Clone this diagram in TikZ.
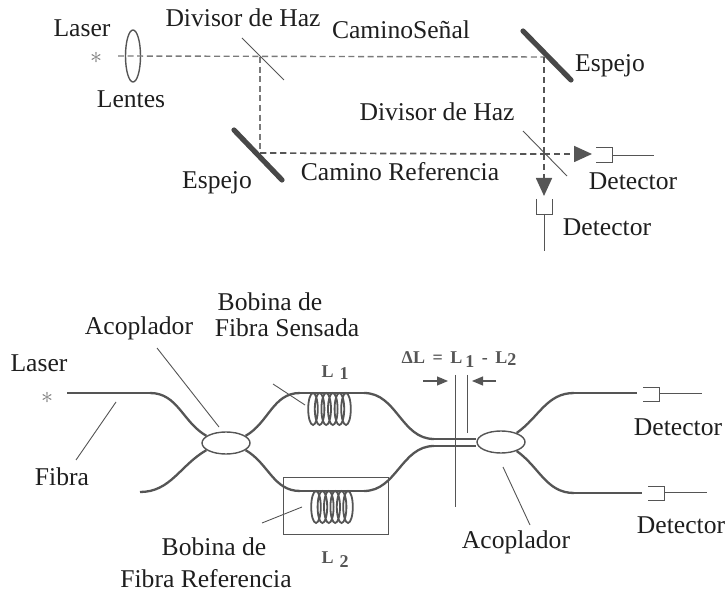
\documentclass[tikz,border=0pt]{standalone}
\usepackage{fontspec}
\setmainfont{Liberation Serif}
\usetikzlibrary{arrows.meta,shapes.geometric}

\definecolor{ink}{HTML}{1E1E1E}
\definecolor{wire}{HTML}{555555}
\definecolor{beam}{HTML}{7A7A7A}

\begin{document}
\begin{tikzpicture}[x=0.5pt,y=-0.5pt,
  every node/.style={inner sep=0pt,text=ink,font=\fontsize{12.8}{14}\selectfont},
  star/.style={text=beam,font=\fontsize{13}{13}\selectfont},
  thin line/.style={draw=wire,line width=0.45pt},
  ray/.style={draw=beam,dash pattern=on 3pt off 1.8pt,line width=0.7pt},
  dark ray/.style={draw=wire,dash pattern=on 3.2pt off 1.8pt,line width=0.85pt},
  ray tip/.style={dark ray,-{Triangle[length=9pt,width=8pt]}},
  mirror/.style={draw=wire!85!black,line width=2.6pt,line cap=round},
  fibre/.style={draw=wire,line width=1.15pt},
  coupler/.style={ellipse,draw=wire,line width=0.7pt,fill=white,minimum width=24pt,minimum height=11pt},
  coil/.style={draw=wire,line width=0.9pt,x radius=4.8,y radius=16},
  small/.style={text=wire,font=\fontsize{9}{10}\bfseries\selectfont},
  dim tip/.style={draw=wire,line width=0.6pt,-{Triangle[length=5.5pt,width=4.5pt]}}]
\useasboundingbox (0,0) rectangle (727,592);

% upper part
\node (laserA) at (82,28) {Laser};
\node[star] (starA) at (96,58) {$\ast$};
\node[draw=wire,line width=0.7pt,ellipse,minimum width=7.5pt,minimum height=26pt] (lens) at (133,56) {};
\node (lentes) at (131,99) {Lentes};
\node (divA) at (243,18) {Divisor de Haz};
\node (signal) at (401,30) {CaminoSeñal};
\node (espejoA) at (610,66) {Espejo};
\node (divB) at (437,112) {Divisor de Haz};
\node (espejoB) at (217,183) {Espejo};
\node (refpath) at (400,172) {Camino Referencia};
\node (detA) at (633,181) {Detector};
\node (detB) at (607,227) {Detector};

\coordinate (beamstart) at (118,56);
\coordinate (split) at (260,57);
\coordinate (turnA) at (544,57);
\coordinate (turnB) at (260,153);
\coordinate (cross) at (544,154);
\coordinate (tipA) at (592,154);
\coordinate (tipB) at (544,196);
\coordinate (splitAa) at (242,38);
\coordinate (splitAb) at (284,80);
\coordinate (splitBa) at (523,131);
\coordinate (splitBb) at (567,176);
\coordinate (mirrorAa) at (523,31);
\coordinate (mirrorAb) at (571,80);
\coordinate (mirrorBa) at (234,130);
\coordinate (mirrorBb) at (282,180);

\path
(beamstart) edge[ray] (turnA)
(split) edge[ray] (turnB)
(turnB) edge[dark ray] (cross)
(turnA) edge[dark ray] (cross)
(cross) edge[ray tip] (tipA)
(cross) edge[ray tip] (tipB)
(splitAa) edge[thin line] (splitAb)
(splitBa) edge[thin line] (splitBb)
(mirrorAa) edge[mirror] (mirrorAb)
(mirrorBa) edge[mirror] (mirrorBb);

% detectors of the upper part
\draw[thin line] (596,147) -| (612,162) -- (596,162);
\draw[thin line] (612,155) -- (654,155);
\draw[thin line] (536,199) |- (552,214) -- (552,199);
\draw[thin line] (544,214) -- (544,251);

% lower part
\node (bobA) at (270,302) {Bobina de};
\node (fibS) at (287,328) {Fibra Sensada};
\node (acopA) at (139,328) {Acoplador};
\node (laserB) at (39,363) {Laser};
\node[star] (starB) at (47,398) {$\ast$};
\node (fibra) at (62,477) {Fibra};
\node (bobB) at (214,547) {Bobina de};
\node (fibR) at (206,579) {Fibra Referencia};
\node (acopB) at (516,542) {Acoplador};
\node (detC) at (678,427) {Detector};
\node (detD) at (681,525) {Detector};
\node[small] (lone) at (335,373) {L\,\,\raisebox{-1pt}{1}};
\node[small] (ltwo) at (335,560) {L\,\,\raisebox{-2pt}{2}};
\node[small] (delta) at (459,360) {ΔL\, =\, L\,\raisebox{-2pt}{1}\, -\, L\raisebox{-1pt}{2}};

\node[draw=wire,line width=0.5pt,minimum width=52.5pt,minimum height=28.5pt] (refbox) at (335.5,505.5) {};
\node[coupler] (cplA) at (226,443) {};
\node[coupler] (cplB) at (501,442) {};

\coordinate (fibstart) at (67,393);
\coordinate (fibend) at (140,492);
\coordinate (up) at (150,393);
\coordinate (upA) at (300,393);
\coordinate (upB) at (364,393);
\coordinate (lowA) at (300,491);
\coordinate (lowB) at (364,491);
\coordinate (joinA) at (434,439);
\coordinate (joinB) at (434,446);
\coordinate (outA) at (574,393);
\coordinate (outB) at (574,493);
\coordinate (endA) at (637,393);
\coordinate (endB) at (642,493);

\path
(fibstart) edge[fibre] (up)
(up) edge[fibre,out=0,in=150] (cplA.160)
(cplA.200) edge[fibre,out=-150,in=0] (fibend)
(cplA.20) edge[fibre,out=30,in=180] (upA)
(cplA.-20) edge[fibre,out=-30,in=180] (lowA)
(upA) edge[fibre] (upB)
(lowA) edge[fibre] (lowB)
(upB) edge[fibre,out=0,in=180] (joinA)
(lowB) edge[fibre,out=0,in=180] (joinB)
(joinA) edge[fibre] (joinA -| cplB.west)
(joinB) edge[fibre] (joinB -| cplB.west)
(cplB.30) edge[fibre,out=35,in=180] (outA)
(cplB.-30) edge[fibre,out=-35,in=180] (outB)
(outA) edge[fibre] (endA)
(outB) edge[fibre] (endB);

% coils
\draw[coil] (313,409) ellipse[] (319.6,409) ellipse[] (326.2,409) ellipse[] (332.8,409) ellipse[] (339.4,409) ellipse[] (346,409) ellipse[];
\draw[coil] (316,507) ellipse[] (322.4,507) ellipse[] (328.8,507) ellipse[] (335.2,507) ellipse[] (341.6,507) ellipse[] (348,507) ellipse[];

% leaders
\coordinate (leadAa) at (157,348);
\coordinate (leadAb) at (219,427);
\coordinate (leadBa) at (116,402);
\coordinate (leadBb) at (76,460);
\coordinate (leadCa) at (273,384);
\coordinate (leadCb) at (305,405);
\coordinate (leadDa) at (262,523);
\coordinate (leadDb) at (302,507);
\coordinate (leadEa) at (503,467);
\coordinate (leadEb) at (530,525);
\path
(leadAa) edge[thin line] (leadAb)
(leadBa) edge[thin line] (leadBb)
(leadCa) edge[thin line] (leadCb)
(leadDa) edge[thin line] (leadDb)
(leadEa) edge[thin line] (leadEb);

% length difference
\coordinate (markAa) at (455,375);
\coordinate (markAb) at (455,507);
\coordinate (markBa) at (467,375);
\coordinate (markBb) at (467,433);
\coordinate (dimAa) at (423,381);
\coordinate (dimAb) at (448,381);
\coordinate (dimBa) at (496,381);
\coordinate (dimBb) at (472,381);
\path
(markAa) edge[thin line] (markAb)
(markBa) edge[thin line] (markBb)
(dimAa) edge[dim tip] (dimAb)
(dimBa) edge[dim tip] (dimBb);

% detectors of the lower part
\draw[thin line] (643,387) -| (659,401) -- (643,401);
\draw[thin line] (659,393) -- (702,393);
\draw[thin line] (648,486) -| (664,500) -- (648,500);
\draw[thin line] (664,492) -- (707,492);
\end{tikzpicture}
\end{document}
